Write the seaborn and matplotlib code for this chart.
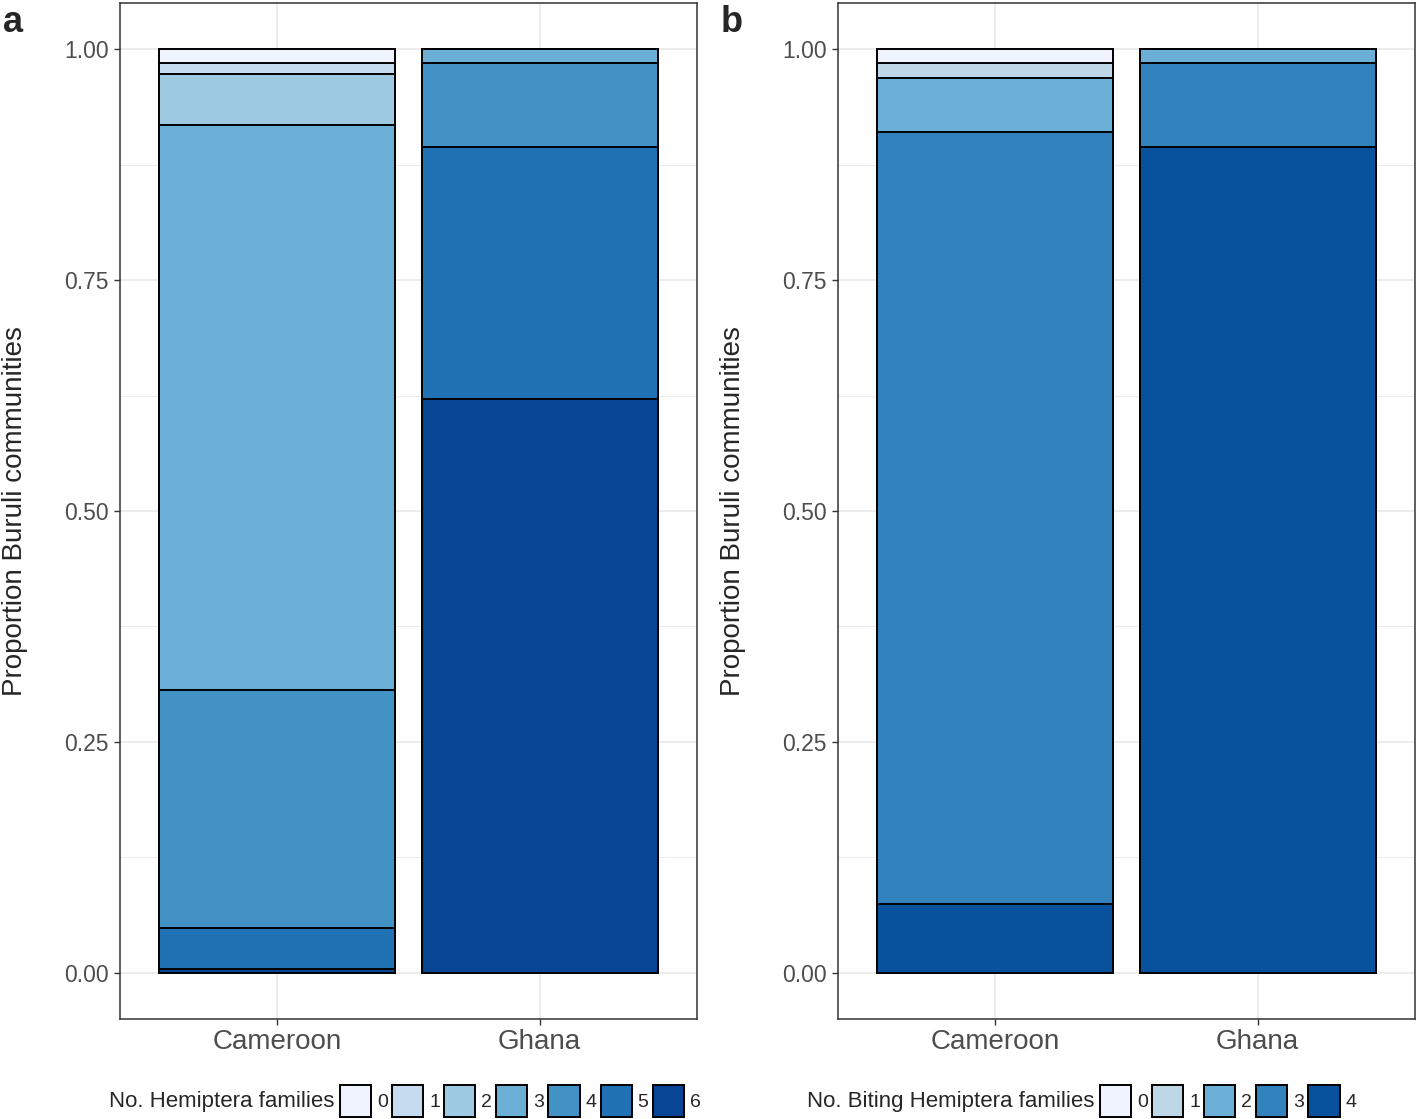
import numpy as np
import pandas as pd
import matplotlib
matplotlib.use("Agg")
import matplotlib.pyplot as plt
from matplotlib.patches import Patch
import seaborn as sns

# data (proportions, stacked with level 0 on top)
countries = ["Cameroon", "Ghana"]

hemi_levels = ["0", "1", "2", "3", "4", "5", "6"]
hemi_cameroon = [0.015, 0.012, 0.055, 0.612, 0.258, 0.044, 0.004]
hemi_ghana = [0.0, 0.0, 0.0, 0.015, 0.091, 0.273, 0.621]
hemi_colors = ["#eff3ff", "#c6dbef", "#9ecae1", "#6baed6", "#4292c6", "#2171b5", "#084594"]

biting_levels = ["0", "1", "2", "3", "4"]
biting_cameroon = [0.015, 0.016, 0.059, 0.835, 0.075]
biting_ghana = [0.0, 0.0, 0.015, 0.091, 0.894]
biting_colors = ["#eff3ff", "#bdd7e7", "#6baed6", "#3182bd", "#08519c"]

sns.set_theme(style="white")
plt.rcParams["font.family"] = ["Liberation Sans", "DejaVu Sans"]

fig = plt.figure(figsize=(14.18, 11.19), dpi=100)
ax_a = fig.add_axes([120 / 1418, 100 / 1119, 577 / 1418, 1016 / 1119])
ax_b = fig.add_axes([838 / 1418, 100 / 1119, 577 / 1418, 1016 / 1119])


def stacked(ax, levels, cam, gha, colors):
    # cumulative height of each level and everything below it
    cam_cum = np.cumsum(cam[::-1])[::-1]
    gha_cum = np.cumsum(gha[::-1])[::-1]
    for i, lev in enumerate(levels):
        df = pd.DataFrame({"country": countries, "prop": [cam_cum[i], gha_cum[i]]})
        sns.barplot(data=df, x="country", y="prop", color=colors[i], saturation=1,
                    width=0.9, edgecolor="black", linewidth=1.4, errorbar=None, ax=ax,
                    zorder=2 + i)

    ax.set_xlim(-0.6, 1.6)
    ax.set_ylim(-0.05, 1.05)
    ax.set_yticks([0, 0.25, 0.5, 0.75, 1.0])
    ax.set_yticklabels(["0.00", "0.25", "0.50", "0.75", "1.00"])
    ax.set_yticks([0.125, 0.375, 0.625, 0.875], minor=True)
    ax.grid(True, which="major", color="#ebebeb", linewidth=1.3, zorder=0)
    ax.grid(True, which="minor", axis="y", color="#ebebeb", linewidth=0.7, zorder=0)
    ax.set_axisbelow(True)
    ax.tick_params(axis="both", which="major", length=4, width=1, color="#333333",
                   direction="out", bottom=True, left=True)
    ax.tick_params(axis="y", which="minor", length=0)
    ax.tick_params(axis="y", labelsize=16.5, labelcolor="#4d4d4d", pad=4)
    ax.tick_params(axis="x", labelsize=20, labelcolor="#4d4d4d", pad=3)
    ax.set_xlabel("")
    ax.set_ylabel("Proportion Buruli communities", fontsize=20, labelpad=26)
    for s in ax.spines.values():
        s.set_color("#333333")
        s.set_linewidth(1.1)


stacked(ax_a, hemi_levels, hemi_cameroon, hemi_ghana, hemi_colors)
stacked(ax_b, biting_levels, biting_cameroon, biting_ghana, biting_colors)

fig.text(3 / 1418, 1 - 22 / 1119, "a", fontsize=26, fontweight="bold", va="center", ha="left")
fig.text(721 / 1418, 1 - 22 / 1119, "b", fontsize=26, fontweight="bold", va="center", ha="left")


def bottom_legend(title, levels, colors, title_right, box_left):
    handles = [Patch(facecolor=c, edgecolor="black", linewidth=1.4) for c in colors]
    leg = fig.legend(handles, levels, loc="center left", ncol=len(levels),
                     bbox_to_anchor=(box_left / 1418, 1 - 1101 / 1119),
                     frameon=False, fontsize=14, handlelength=1.6, handleheight=2.08,
                     handletextpad=0.3, columnspacing=0.22, borderpad=0, borderaxespad=0)
    fig.text(title_right / 1418, 1 - 1101 / 1119, title, fontsize=16, ha="right", va="center")
    return leg


bottom_legend("No. Hemiptera families", hemi_levels, hemi_colors, 334, 340)
bottom_legend("No. Biting Hemiptera families", biting_levels, biting_colors, 1094, 1100)

fig.savefig("out.png", dpi=100)
